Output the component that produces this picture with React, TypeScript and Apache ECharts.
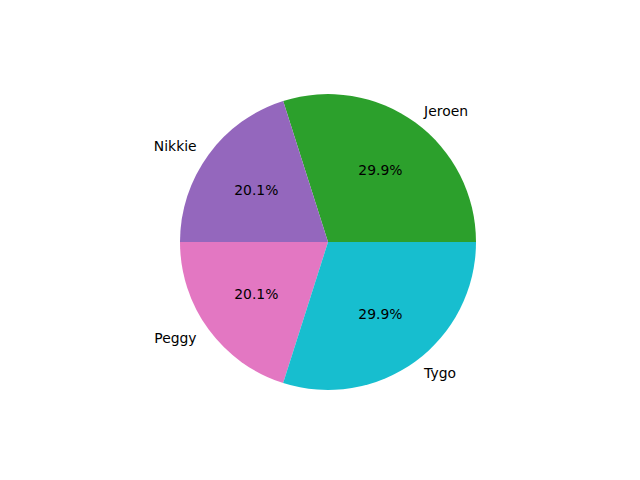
import React, { useEffect, useRef } from "react";
import * as echarts from "echarts";

const names = ["Jeroen", "Nikkie", "Peggy", "Tygo"];
const values = [29.9, 20.1, 20.1, 29.9];
const colors = ["#2ca02c", "#9467bd", "#e377c2", "#17becf"];

export default function App() {
  const ref = useRef<HTMLDivElement>(null);
  useEffect(() => {
    if (!ref.current) return;
    const chart = echarts.init(ref.current, undefined, { renderer: "svg" });
    const R = 148;
    const center = [328, 242];
    const font = { fontFamily: "DejaVu Sans", fontSize: 13.9, color: "#000" };
    const mainData = names.map((n, i) => ({
      name: n,
      value: values[i],
      itemStyle: { color: colors[i] },
    }));
    const pctData = names.map((n, i) => ({
      name: n,
      value: values[i],
      itemStyle: { color: "rgba(0,0,0,0)" },
    }));
    chart.setOption({
      animation: false,
      backgroundColor: "#fff",
      series: [
        {
          type: "pie",
          center,
          radius: [0, R],
          startAngle: 0,
          clockwise: false,
          avoidLabelOverlap: false,
          silent: true,
          data: mainData,
          label: {
            show: true,
            position: "outside",
            formatter: "{b}",
            ...font,
          },
          labelLine: { show: false, length: R * 0.1, length2: -5 },
          emphasis: { disabled: true },
        },
        {
          type: "pie",
          center,
          radius: [0, R * 1.2 - 6],
          startAngle: 0,
          clockwise: false,
          avoidLabelOverlap: false,
          silent: true,
          z: 5,
          data: pctData,
          label: {
            show: true,
            position: "inside",
            formatter: (p: any) => p.percent.toFixed(1) + "%",
            ...font,
          },
          labelLine: { show: false },
          emphasis: { disabled: true },
        },
      ],
    });
    return () => chart.dispose();
  }, []);
  return (
    <div
      ref={ref}
      style={{ position: "fixed", left: 0, top: 0, width: 640, height: 480 }}
    />
  );
}
